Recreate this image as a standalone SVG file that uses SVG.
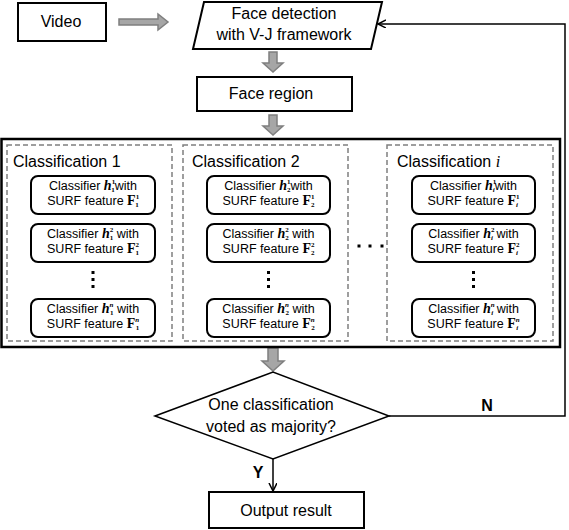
<svg xmlns="http://www.w3.org/2000/svg" width="569" height="530" viewBox="0 0 569 530">
<defs>
<style>
.box{fill:#fff;stroke:#000;stroke-width:2}
.rbox{fill:#fff;stroke:#000;stroke-width:2}
.big{fill:none;stroke:#000;stroke-width:2.5}
.dash{fill:none;stroke:#7f7f7f;stroke-width:1.5;stroke-dasharray:5 3}
.hol{fill:#a6a6a6;stroke:#7f7f7f;stroke-width:1.5}
.ln{fill:none;stroke:#000;stroke-width:1.5}
.t{font-family:"Liberation Sans",Arial,sans-serif;font-size:16px;fill:#000}
.c{font-family:"Liberation Sans",Arial,sans-serif;font-size:12.5px;fill:#000}
.mh{font-family:"Liberation Serif","Times New Roman",serif;font-weight:bold;font-style:italic;font-size:14px}
.mf{font-family:"Liberation Serif","Times New Roman",serif;font-weight:bold;font-size:14px}
.s{font-family:"Liberation Serif","Times New Roman",serif;font-size:7px;font-weight:bold}
.si{font-family:"Liberation Serif","Times New Roman",serif;font-size:7px;font-weight:bold;font-style:italic}
.mi{font-family:"Liberation Serif","Times New Roman",serif;font-style:italic}
.dot{fill:#000}
</style>
<marker id="open" markerWidth="10" markerHeight="10" refX="8" refY="4" orient="auto" markerUnits="userSpaceOnUse">
<path d="M0,0 L8,4 L0,8" fill="none" stroke="#000" stroke-width="1.5"/>
</marker>
</defs>
<rect width="569" height="530" fill="#fff"/>

<g id="connectors">
<path class="hol" d="M119,19 H158 V14 L168,22 L158,30 V25 H119 Z"/>
<path class="hol" d="M269,52 V63 H263 L273,72 L283,63 H277 V52 Z"/>
<path class="hol" d="M269,115 V126 H263 L273,135 L283,126 H277 V115 Z"/>
<path class="hol" d="M268,348 V361 H262 L273,371 L284,361 H278 V348 Z"/>
<polyline class="ln" points="389,416 565,416 565,24 378,24" marker-end="url(#open)"/>
<line class="ln" x1="273" y1="459" x2="273" y2="491" marker-end="url(#open)"/>
<text class="t" x="487" y="411" text-anchor="middle" font-weight="bold" font-size="14">N</text>
<text class="t" x="258" y="478" text-anchor="middle" font-weight="bold" font-size="14">Y</text>
</g>

<g id="video">
<rect class="box" x="18" y="3" width="88" height="38"/>
<text class="t" x="61" y="27" text-anchor="middle">Video</text>
</g>

<g id="face-detection">
<polygon class="box" points="204,2 382,2 371,49 193,49"/>
<text class="t" x="284" y="19" text-anchor="middle">Face detection</text>
<text class="t" x="284" y="40" text-anchor="middle">with V-J framework</text>
</g>

<g id="face-region">
<rect class="box" x="197" y="77" width="155" height="34"/>
<text class="t" x="271" y="99" text-anchor="middle">Face region</text>
</g>

<g id="classifications">
<rect class="big" x="1.5" y="139" width="558.5" height="208"/>

<g id="classification-1">
<rect class="dash" x="7" y="145" width="165" height="196"/>
<text class="t" x="13" y="167">Classification 1</text>
<g id="c1-r1">
<rect class="rbox" x="31" y="176" width="124" height="38" rx="7"/>
<text class="c" x="93" y="190" text-anchor="middle">Classifier <tspan class="mh">h</tspan><tspan class="s" dy="-6">1</tspan><tspan class="s" dx="-3.5" dy="8">1</tspan><tspan dy="-2">with</tspan></text>
<text class="c" x="93" y="205" text-anchor="middle">SURF feature <tspan class="mf">F</tspan><tspan class="s" dy="-6">1</tspan><tspan class="s" dx="-3.5" dy="8">1</tspan></text>
</g>
<g id="c1-r2">
<rect class="rbox" x="31" y="224" width="124" height="38" rx="7"/>
<text class="c" x="93" y="238" text-anchor="middle">Classifier <tspan class="mh">h</tspan><tspan class="s" dy="-6">2</tspan><tspan class="s" dx="-3.5" dy="8">1</tspan><tspan dy="-2"> with</tspan></text>
<text class="c" x="93" y="253" text-anchor="middle">SURF feature <tspan class="mf">F</tspan><tspan class="s" dy="-6">2</tspan><tspan class="s" dx="-3.5" dy="8">1</tspan></text>
</g>
<rect class="dot" x="91.5" y="271" width="3" height="3"/>
<rect class="dot" x="91.5" y="278" width="3" height="3"/>
<rect class="dot" x="91.5" y="285" width="3" height="3"/>
<g id="c1-r3">
<rect class="rbox" x="31" y="299" width="124" height="38" rx="7"/>
<text class="c" x="93" y="313" text-anchor="middle">Classifier <tspan class="mh">h</tspan><tspan class="si" dy="-6">n</tspan><tspan class="s" dx="-3.5" dy="8">1</tspan><tspan dy="-2"> with</tspan></text>
<text class="c" x="93" y="328" text-anchor="middle">SURF feature <tspan class="mf">F</tspan><tspan class="si" dy="-6">n</tspan><tspan class="s" dx="-3.5" dy="8">1</tspan></text>
</g>
</g>

<g id="classification-2">
<rect class="dash" x="183" y="145" width="165" height="196"/>
<text class="t" x="192" y="167">Classification 2</text>
<g id="c2-r1">
<rect class="rbox" x="207" y="176" width="123" height="38" rx="7"/>
<text class="c" x="268.5" y="190" text-anchor="middle">Classifier  <tspan class="mh">h</tspan><tspan class="s" dy="-6">1</tspan><tspan class="s" dx="-3.5" dy="8">2</tspan><tspan dy="-2">with</tspan></text>
<text class="c" x="268.5" y="205" text-anchor="middle">SURF feature <tspan class="mf">F</tspan><tspan class="s" dy="-6">1</tspan><tspan class="s" dx="-3.5" dy="8">2</tspan></text>
</g>
<g id="c2-r2">
<rect class="rbox" x="207" y="224" width="123" height="38" rx="7"/>
<text class="c" x="268.5" y="238" text-anchor="middle">Classifier <tspan class="mh">h</tspan><tspan class="s" dy="-6">2</tspan><tspan class="s" dx="-3.5" dy="8">2</tspan><tspan dy="-2"> with</tspan></text>
<text class="c" x="268.5" y="253" text-anchor="middle">SURF feature <tspan class="mf">F</tspan><tspan class="s" dy="-6">2</tspan><tspan class="s" dx="-3.5" dy="8">2</tspan></text>
</g>
<rect class="dot" x="267" y="271" width="3" height="3"/>
<rect class="dot" x="267" y="278" width="3" height="3"/>
<rect class="dot" x="267" y="285" width="3" height="3"/>
<g id="c2-r3">
<rect class="rbox" x="207" y="299" width="123" height="38" rx="7"/>
<text class="c" x="268.5" y="313" text-anchor="middle">Classifier <tspan class="mh">h</tspan><tspan class="si" dy="-6">n</tspan><tspan class="s" dx="-3.5" dy="8">2</tspan><tspan dy="-2"> with</tspan></text>
<text class="c" x="268.5" y="328" text-anchor="middle">SURF feature <tspan class="mf">F</tspan><tspan class="si" dy="-6">n</tspan><tspan class="s" dx="-3.5" dy="8">2</tspan></text>
</g>
</g>

<g id="ellipsis">
<rect class="dot" x="357.5" y="244.5" width="3" height="3"/>
<rect class="dot" x="368.5" y="244.5" width="3" height="3"/>
<rect class="dot" x="380.5" y="244.5" width="3" height="3"/>
</g>

<g id="classification-i">
<rect class="dash" x="387" y="145" width="166" height="196"/>
<text class="t" x="397" y="167">Classification <tspan class="mi">i</tspan></text>
<g id="ci-r1">
<rect class="rbox" x="412" y="176" width="123" height="38" rx="7"/>
<text class="c" x="473.5" y="190" text-anchor="middle">Classifier  <tspan class="mh">h</tspan><tspan class="s" dy="-6">1</tspan><tspan class="si" dx="-3.5" dy="8">i</tspan><tspan dy="-2">with</tspan></text>
<text class="c" x="473.5" y="205" text-anchor="middle">SURF feature <tspan class="mf">F</tspan><tspan class="s" dy="-6">1</tspan><tspan class="si" dx="-3.5" dy="8">i</tspan></text>
</g>
<g id="ci-r2">
<rect class="rbox" x="412" y="224" width="123" height="38" rx="7"/>
<text class="c" x="473.5" y="238" text-anchor="middle">Classifier <tspan class="mh">h</tspan><tspan class="s" dy="-6">2</tspan><tspan class="si" dx="-3.5" dy="8">i</tspan><tspan dy="-2"> with</tspan></text>
<text class="c" x="473.5" y="253" text-anchor="middle">SURF feature <tspan class="mf">F</tspan><tspan class="s" dy="-6">2</tspan><tspan class="si" dx="-3.5" dy="8">i</tspan></text>
</g>
<rect class="dot" x="472" y="271" width="3" height="3"/>
<rect class="dot" x="472" y="278" width="3" height="3"/>
<rect class="dot" x="472" y="285" width="3" height="3"/>
<g id="ci-r3">
<rect class="rbox" x="412" y="299" width="123" height="38" rx="7"/>
<text class="c" x="473.5" y="313" text-anchor="middle">Classifier <tspan class="mh">h</tspan><tspan class="si" dy="-6">n</tspan><tspan class="si" dx="-3.5" dy="8">i</tspan><tspan dy="-2"> with</tspan></text>
<text class="c" x="473.5" y="328" text-anchor="middle">SURF feature <tspan class="mf">F</tspan><tspan class="si" dy="-6">n</tspan><tspan class="si" dx="-3.5" dy="8">i</tspan></text>
</g>
</g>
</g>

<g id="decision">
<polygon class="ln" points="155,416 273,372 389,416 273,459" style="fill:#fff"/>
<text class="t" x="271" y="410" text-anchor="middle">One classification</text>
<text class="t" x="271" y="432" text-anchor="middle">voted as majority?</text>
</g>

<g id="output">
<rect class="box" x="209" y="492" width="155" height="36"/>
<text class="t" x="286" y="516" text-anchor="middle">Output result</text>
</g>
</svg>
